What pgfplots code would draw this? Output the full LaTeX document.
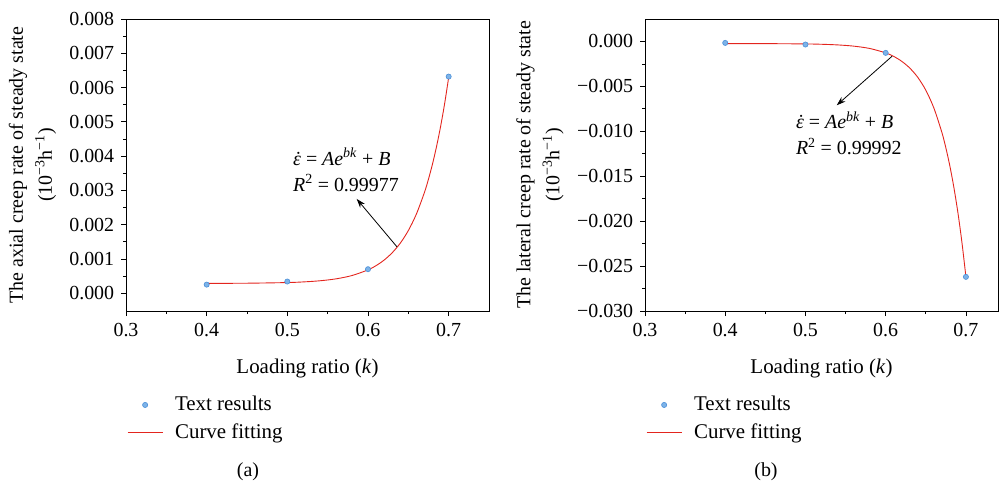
\documentclass[border=0pt]{standalone}
\usepackage{fontspec}
\setmainfont{Liberation Serif}
\usepackage{pgfplots}
\pgfplotsset{compat=1.18}
\usetikzlibrary{arrows.meta}
\definecolor{fitred}{HTML}{E3251E}
\definecolor{mfill}{HTML}{7DB3E8}
\definecolor{medge}{HTML}{4A8FD8}
\newcommand{\epsdot}{{\itshape\accent"02D9 ε}}
\pgfplotsset{
  panel/.style={
    scale only axis, height=292bp,
    xmin=0.3,
    scaled y ticks=false, scaled x ticks=false,
    axis line style={line width=0.9bp},
    tick align=outside, xtick pos=bottom, ytick pos=left,
    major tick length=5bp, minor tick length=3bp,
    every tick/.style={black, line width=0.8bp},
    xtick={0.3,0.4,0.5,0.6,0.7}, xticklabels={0.3,0.4,0.5,0.6,0.7},
    minor x tick num=1, minor y tick num=1,
    clip=false,
    legend cell align=left,
    legend style={draw=none, fill=none, at={(rel axis cs:0,0)}, anchor=north west,
      xshift=1bp, yshift=-83bp, row sep=6bp, inner sep=0pt, font=\fontsize{21}{24}\selectfont},
  },
  marks/.style={only marks, mark=*, mark size=2.6bp, mark options={fill=mfill, draw=medge, line width=0.6bp},
    legend image code/.code={\draw[mark repeat=2,mark phase=2,##1] plot coordinates {(0bp,0)(17.5bp,0)(35bp,0)};}},
  fit/.style={fitred, line width=0.9bp, smooth, no marks,
    legend image code/.code={\draw[##1] (0bp,0) -- (35bp,0);}},
}
\begin{document}
\fontsize{20}{24}\selectfont
\begin{tikzpicture}
\useasboundingbox (0,0) rectangle (999bp,-487bp);
% ---------- panel (a)
\begin{axis}[panel, at={(126bp,-311bp)}, anchor=south west, width=363bp,
  xmax=0.75, ymin=-0.00052, ymax=0.008,
  ytick={0,0.001,0.002,0.003,0.004,0.005,0.006,0.007,0.008},
  yticklabels={0.000,0.001,0.002,0.003,0.004,0.005,0.006,0.007,0.008}]
\addplot[marks] coordinates {(0.4,0.00025) (0.5,0.00034) (0.6,0.00070) (0.7,0.00632)};
\addlegendentry{\hspace*{10bp}Text results}
\addplot[fit] coordinates {
(0.40,0.000286) (0.45,0.000291) (0.50,0.000310) (0.52,0.000329) (0.54,0.000361)
(0.56,0.000417) (0.58,0.000514) (0.60,0.000680) (0.61,0.000804) (0.62,0.000966)
(0.63,0.001180) (0.64,0.001459) (0.65,0.001827) (0.66,0.002309) (0.67,0.002942)
(0.675,0.003329) (0.68,0.003773) (0.685,0.004282) (0.69,0.004864) (0.695,0.005531) (0.70,0.006295)};
\addlegendentry{\hspace*{10bp}Curve fitting}
\draw[-{Stealth[length=9bp,width=6bp]}, line width=0.8bp] (axis cs:0.636,0.00135) -- (axis cs:0.586,0.00275);
\node[anchor=west, align=left, inner sep=0pt] at (axis cs:0.507,0.0036)
  {\epsdot{} = \textit{Ae}\textsuperscript{\textit{bk}} + \textit{B}\\[2pt]\textit{R}\textsuperscript{2} = 0.99977};
\node[xshift=-93.5bp, rotate=90, align=center] at (rel axis cs:0,0.5)
  {The axial creep rate of steady state\\[5pt](10\textsuperscript{−3}h\textsuperscript{−1})};
\node[yshift=-57bp, font=\fontsize{21}{24}\selectfont] at (rel axis cs:0.5,0) {Loading ratio (\textit{k})};
\end{axis}
% ---------- panel (b)
\begin{axis}[panel, at={(645bp,-311bp)}, anchor=south west, width=353bp,
  xmax=0.74, ymin=-0.030, ymax=0.0025,
  ytick={-0.030,-0.025,-0.020,-0.015,-0.010,-0.005,0},
  yticklabels={−0.030,−0.025,−0.020,−0.015,−0.010,−0.005,0.000}]
\addplot[marks] coordinates {(0.4,-0.00016) (0.5,-0.00034) (0.6,-0.00127) (0.7,-0.0262)};
\addlegendentry{\hspace*{10bp}Text results}
\addplot[fit] coordinates {
(0.40,-0.000235) (0.45,-0.000241) (0.50,-0.000274) (0.52,-0.000312) (0.54,-0.000383)
(0.56,-0.000519) (0.58,-0.000778) (0.60,-0.001270) (0.61,-0.001664) (0.62,-0.002208)
(0.63,-0.002958) (0.64,-0.003993) (0.65,-0.005421) (0.66,-0.007392) (0.67,-0.010111)
(0.675,-0.011837) (0.68,-0.013863) (0.685,-0.016246) (0.69,-0.019042) (0.695,-0.022331) (0.70,-0.026189)};
\addlegendentry{\hspace*{10bp}Curve fitting}
\draw[-{Stealth[length=9bp,width=6bp]}, line width=0.8bp] (axis cs:0.608,-0.00164) -- (axis cs:0.539,-0.0071);
\node[anchor=west, align=left, inner sep=0pt] at (axis cs:0.488,-0.0102)
  {\epsdot{} = \textit{Ae}\textsuperscript{\textit{bk}} + \textit{B}\\[2pt]\textit{R}\textsuperscript{2} = 0.99992};
\node[xshift=-105bp, rotate=90, align=center] at (rel axis cs:0,0.5)
  {The lateral creep rate of steady state\\[5pt](10\textsuperscript{−3}h\textsuperscript{−1})};
\node[yshift=-57bp, font=\fontsize{21}{24}\selectfont] at (rel axis cs:0.5,0) {Loading ratio (\textit{k})};
\end{axis}
\node at (248bp,-472bp) {(a)};
\node at (766bp,-472bp) {(b)};
\end{tikzpicture}
\end{document}
